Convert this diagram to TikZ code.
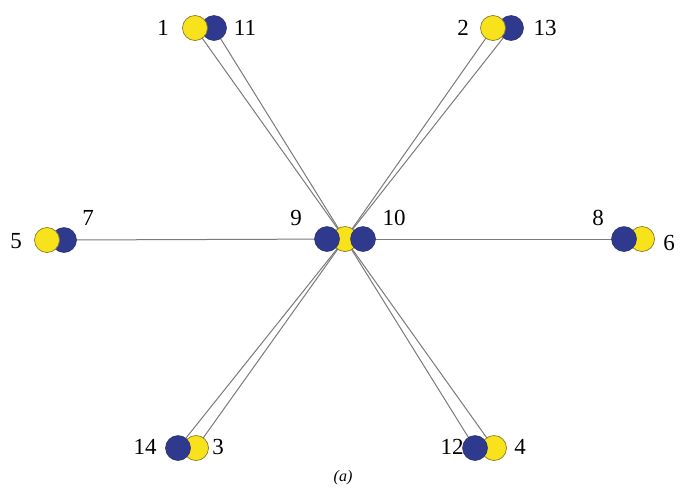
\documentclass[tikz,border=0pt]{standalone}
\usepackage{fontspec}
\setmainfont{Liberation Serif}
\usetikzlibrary{backgrounds}
\definecolor{ayellow}{HTML}{F8E21C}
\definecolor{ayedge}{HTML}{8A7A2A}
\definecolor{ablue}{HTML}{2F3A8E}
\definecolor{abedge}{HTML}{252C6A}
\definecolor{aline}{HTML}{7A7A7A}
\tikzset{
  ycirc/.style={circle,fill=ayellow,draw=ayedge,line width=0.7pt,minimum size=25pt,inner sep=0pt},
  bcirc/.style={circle,fill=ablue,draw=abedge,line width=0.5pt,minimum size=25pt,inner sep=0pt},
  lab/.style={font=\fontsize{23}{23}\selectfont,inner sep=0pt},
  conn/.style={draw=aline,line width=1pt}
}
\begin{document}
\begin{tikzpicture}[x=1pt,y=-1pt]
\useasboundingbox (0,0) rectangle (682,491);
% top-left pair (yellow on top)
\node[bcirc] (b11) at (214,28) {};
\node[ycirc] (y1) at (195,28) {};
% top-right pair
\node[bcirc] (b13) at (511,28) {};
\node[ycirc] (y2) at (493,28) {};
% left pair
\node[bcirc] (b7) at (64,240) {};
\node[ycirc] (y5) at (47,240) {};
% centre
\node[ycirc] (yc) at (345,239) {};
\node[bcirc] (b9) at (327,239) {};
\node[bcirc] (b10) at (363,239) {};
% right pair (blue on top)
\node[ycirc] (y6) at (642,239) {};
\node[bcirc] (b8) at (624,239) {};
% bottom-left pair
\node[ycirc] (y3) at (196,448) {};
\node[bcirc] (b14) at (178,448) {};
% bottom-right pair
\node[ycirc] (y4) at (494,448) {};
\node[bcirc] (b12) at (475,448) {};
% connectors behind
\begin{scope}[on background layer]
\draw[conn] (y1.center) -- (yc.center);
\draw[conn] (b11.center) -- (yc.center);
\draw[conn] (y2.center) -- (yc.center);
\draw[conn] (b13.center) -- (yc.center);
\draw[conn] (b7.center) -- (yc.center);
\draw[conn] (yc.center) -- (b8.center);
\draw[conn] (b14.center) -- (yc.center);
\draw[conn] (y3.center) -- (yc.center);
\draw[conn] (b12.center) -- (yc.center);
\draw[conn] (y4.center) -- (yc.center);
\end{scope}
% labels
\node[lab] (l1) at (163,28) {1};
\node[lab] (l11) at (245,28) {11};
\node[lab] (l2) at (463,28) {2};
\node[lab] (l13) at (545,28) {13};
\node[lab] (l5) at (16,241) {5};
\node[lab] (l7) at (88,218) {7};
\node[lab] (l9) at (296,218) {9};
\node[lab] (l10) at (394,218) {10};
\node[lab] (l8) at (598,218) {8};
\node[lab] (l6) at (669,243) {6};
\node[lab] (l14) at (145,447) {14};
\node[lab] (l3) at (218,447) {3};
\node[lab] (l12) at (452,447) {12};
\node[lab] (l4) at (520,447) {4};
\node[font=\fontsize{16}{16}\selectfont\itshape,inner sep=0pt] (la) at (343,478) {(a)};
\end{tikzpicture}
\end{document}
